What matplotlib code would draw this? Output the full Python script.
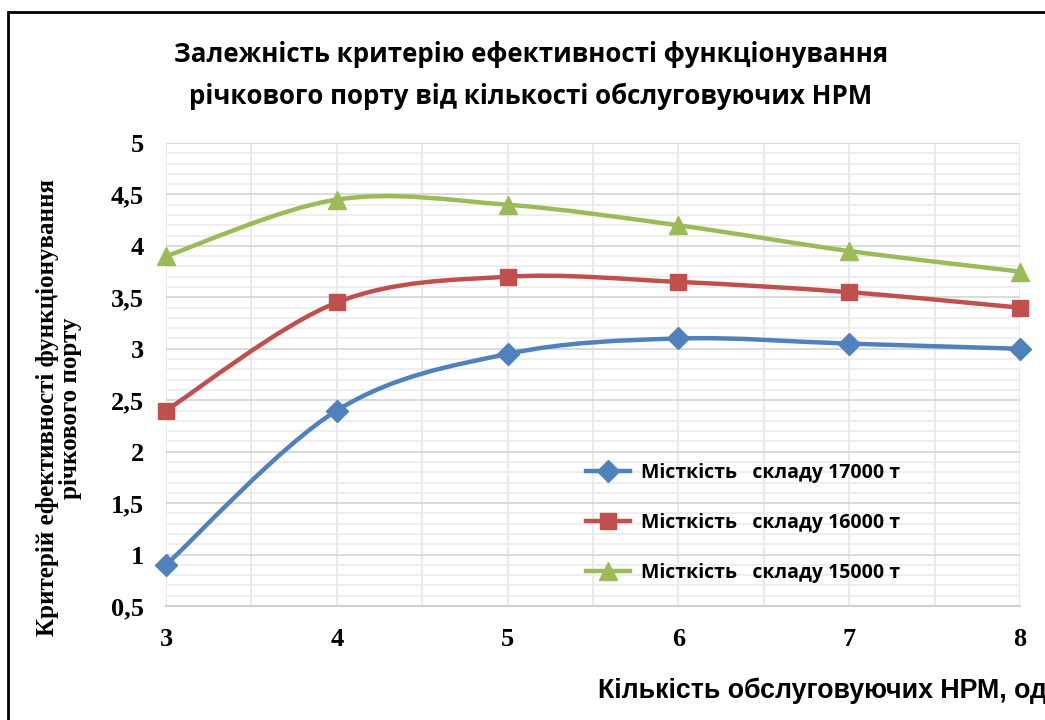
import matplotlib.pyplot as plt
import numpy as np
from matplotlib.path import Path
from matplotlib.patches import PathPatch, Rectangle
from matplotlib.font_manager import FontProperties

# data
hpm = [3, 4, 5, 6, 7, 8]
cap_17000 = [0.9, 2.4, 2.95, 3.1, 3.05, 3.0]
cap_16000 = [2.4, 3.45, 3.7, 3.65, 3.55, 3.4]
cap_15000 = [3.9, 4.45, 4.4, 4.2, 3.95, 3.75]
series_labels = ["Місткість   складу 17000 т",
                 "Місткість   складу 16000 т",
                 "Місткість   складу 15000 т"]
y_ticks = [0.5, 1, 1.5, 2, 2.5, 3, 3.5, 4, 4.5, 5]
y_tick_labels = ["0,5", "1", "1,5", "2", "2,5", "3", "3,5", "4", "4,5", "5"]

title = "Залежність критерію ефективності функціонування\nрічкового порту від кількості обслуговуючих НРМ"
x_title = "Кількість обслуговуючих НРМ, од"
y_title = "Критерій ефективності функціонування\nрічкового порту"

calibri_like = ["Open Sans", "DejaVu Sans"]
arial_like = ["Liberation Sans", "DejaVu Sans"]
times_like = ["Liberation Serif", "DejaVu Serif"]


def smooth_path(xs, ys):
    """Bezier path like Excel's smoothed line"""
    pts = np.column_stack([xs, ys]).astype(float)
    n = len(pts)
    verts = [pts[0]]
    codes = [Path.MOVETO]
    for i in range(n - 1):
        p0 = pts[max(i - 1, 0)]
        p1 = pts[i]
        p2 = pts[i + 1]
        p3 = pts[min(i + 2, n - 1)]
        c1 = p1 + (p2 - p0) / 6
        c2 = p2 - (p3 - p1) / 6
        verts += [c1, c2, p2]
        codes += [Path.CURVE4] * 3
    return Path(verts, codes)


fig = plt.figure(figsize=(10.45, 7.2), dpi=100)
ax = fig.add_axes([166/1045, 1 - 606/720, (1020 - 166)/1045, (606 - 143)/720])

styles = [("#4F81BD", "D", 11), ("#C0504D", "s", 12), ("#9BBB59", "^", 13)]
for vals, lab, (col, mk, ms) in zip([cap_17000, cap_16000, cap_15000], series_labels, styles):
    ax.add_patch(PathPatch(smooth_path(hpm, vals), facecolor="none", edgecolor=col,
                           lw=3.2, capstyle="round", zorder=3, clip_on=False))
    ax.plot(hpm, vals, linestyle="none", marker=mk, ms=ms, color=col, zorder=4, clip_on=False)
    ax.plot([], [], color=col, lw=3.2, marker=mk, ms=ms, label=lab)

ax.set_xlim(3, 8)
ax.set_ylim(0.5, 5)
ax.set_xticks(hpm)
ax.set_xticks(np.arange(3.5, 8, 1), minor=True)
ax.set_yticks(y_ticks)
ax.set_yticklabels(y_tick_labels)
ax.set_yticks(np.arange(0.6, 5, 0.1), minor=True)
ax.grid(which="major", axis="y", color="#D4D4D4", lw=1.2)
ax.grid(which="minor", axis="y", color="#EBEBEB", lw=1.2)
ax.grid(which="both", axis="x", color="#E6E6E6", lw=1.2)
ax.set_axisbelow(True)
for s in ["top", "right", "left"]:
    ax.spines[s].set_visible(False)
ax.spines["bottom"].set_color("#D0D0D0")
ax.spines["bottom"].set_linewidth(1.5)
ax.tick_params(which="both", length=0)
ax.tick_params(axis="y", pad=16)
ax.tick_params(axis="x", pad=16)
tick_font = FontProperties(family=times_like, weight="bold", size=19)
for t in ax.get_xticklabels() + ax.get_yticklabels():
    t.set_fontproperties(tick_font)

leg = ax.legend(loc="upper left", bbox_to_anchor=(0.471, 0.347), frameon=False,
                prop=FontProperties(family=calibri_like, weight="bold", size=14),
                handlelength=2.3, labelspacing=1.55, handletextpad=0.55)

fig.text(0.508, 0.895, title, ha="center", va="center",
         fontproperties=FontProperties(family=calibri_like, weight="bold", size=18.6),
         linespacing=1.7)
# the reference crops the end of this label at the right edge
fig.text(598/1045, 1 - 691/720, x_title, ha="left", va="center",
         fontproperties=FontProperties(family=arial_like, weight="bold", size=19.3))
fig.text(59/1045, 1 - 408/720, y_title, ha="center", va="center", rotation=90,
         fontproperties=FontProperties(family=times_like, weight="bold", size=18),
         linespacing=1.0)

# chart border (cropped at right and bottom)
fig.patches.append(Rectangle((8/1045, -0.1), 1.2, 1 - 12/720 + 0.1, transform=fig.transFigure,
                             fill=False, edgecolor="black", lw=2))

fig.savefig("out.png", dpi=100)
